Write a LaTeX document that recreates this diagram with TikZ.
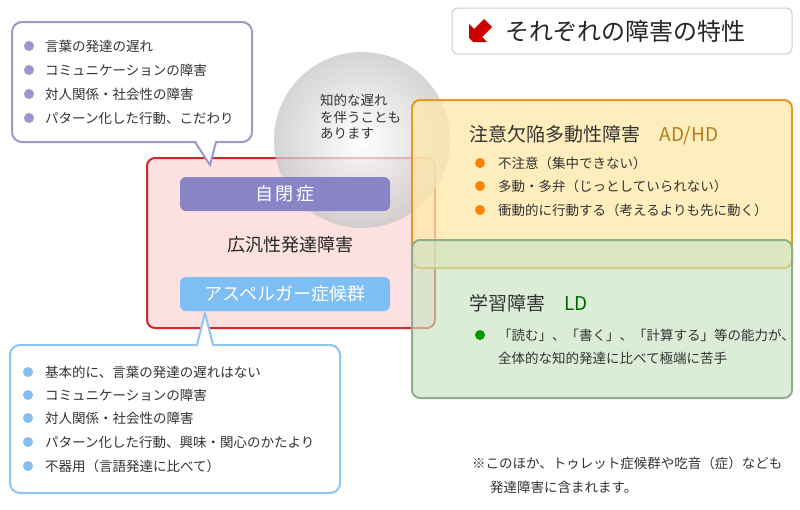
\documentclass[tikz,border=0pt]{standalone}
\usepackage{fontspec}
\setmainfont{Noto Sans CJK JP}
\definecolor{pv}{HTML}{9C98CC}
\definecolor{pvb}{HTML}{9A96D0}
\definecolor{pb}{HTML}{8EC6F2}
\definecolor{pbb}{HTML}{86BDEE}
\definecolor{autc}{HTML}{8884C6}
\definecolor{aspc}{HTML}{7DBEF4}
\definecolor{redb}{HTML}{D02828}
\definecolor{pinkf}{HTML}{FDE0E0}
\definecolor{orb}{HTML}{E8981E}
\definecolor{orf}{HTML}{FFE9A8}
\definecolor{grb}{HTML}{8FAE8C}
\definecolor{grf}{HTML}{C9E4C2}
\begin{document}
\begin{tikzpicture}[x=1pt,y=-1pt,
 txt/.style={anchor=west,inner sep=0pt,font=\fontsize{13.5}{15}\selectfont,text=black!80},
 bul/.style={circle,inner sep=0pt,minimum size=10pt,fill=#1},
 box/.style={rounded corners=8pt,line width=2pt}]
\useasboundingbox (0,0) rectangle (800,509);
\fill[white] (0,0) rectangle (800,509);
% red box
\draw[box,draw=redb,fill=pinkf] (147,158) rectangle (435,328);
% grey circle
\shade[inner color=white,outer color=black!22,opacity=0.75] (362,140) circle (88);
\node[txt] (c1) at (320,100) {知的な遅れ};
\node[txt] (c2) at (320,117) {を伴うことも};
\node[txt] (c3) at (320,134) {あります};
% orange & green
\draw[box,draw=orb,fill=orf,fill opacity=0.75] (412,100) rectangle (792,268);
\draw[box,draw=grb,fill=grf,fill opacity=0.65] (412,240) rectangle (792,398);
% bars
\node[rounded corners=6pt,fill=autc,minimum width=210pt,minimum height=34pt,text=white,font=\fontsize{18}{20}\selectfont] (aut) at (285,194) {自\,閉\,症};
\node[font=\fontsize{18}{20}\selectfont,text=black!85] (pdd) at (290,245) {広汎性発達障害};
\node[rounded corners=6pt,fill=aspc,minimum width=210pt,minimum height=34pt,text=white,font=\fontsize{18}{20}\selectfont] (asp) at (285,294) {アスペルガー症候群};
% top-left callout
\coordinate (t1) at (210,165);
\draw[line width=2pt,draw=pv,fill=white,rounded corners=10pt] (12,22) rectangle (252,142);
\fill[white] (195,139) -- (t1) -- (216,139) -- cycle;
\draw[line width=2pt,draw=pv] (195,142) -- (t1) -- (216,142);
\foreach \y/\t in {46/言葉の発達の遅れ,70/コミュニケーションの障害,94/対人関係・社会性の障害,118/パターン化した行動、こだわり}{
 \node[bul=pvb] at (29,\y) {};
 \node[txt] at (45,\y) {\t};}
% bottom-left callout
\coordinate (t2) at (205,313);
\draw[line width=2pt,draw=pb,fill=white,rounded corners=10pt] (10,345) rectangle (340,493);
\fill[white] (197,348) -- (t2) -- (213,348) -- cycle;
\draw[line width=2pt,draw=pb] (197,345) -- (t2) -- (213,345);
\foreach \y/\t in {372/基本的に、言葉の発達の遅れはない,395/コミュニケーションの障害,418/対人関係・社会性の障害,442/パターン化した行動、興味・関心のかたより,466/不器用（言語発達に比べて）}{
 \node[bul=pbb] at (28,\y) {};
 \node[txt] at (45,\y) {\t};}
% title
\node[draw=black!20,line width=1pt,rounded corners=6pt,minimum width=340pt,minimum height=46pt,fill=white] (tb) at (622,31) {};
\fill[red!80!black] (469,38) -- (469,24) -- (474,29) -- (484,19) -- (492,27) -- (482,37) -- (487,42) -- (473,42) -- cycle;
\node[anchor=west,font=\fontsize{24}{26}\selectfont,text=black!85] (tt) at (502,31) {それぞれの障害の特性};
% ADHD
\node[anchor=west,font=\fontsize{19}{21}\selectfont,text=black!80] (ad) at (466,135) {注意欠陥多動性障害\quad\textcolor{orb!80!black}{AD/HD}};
\foreach \y/\t in {163/不注意（集中できない）,186/多動・多弁（じっとしていられない）,210/衝動的に行動する（考えるよりも先に動く）}{
 \node[bul=orange] at (480,\y) {};
 \node[txt] at (498,\y) {\t};}
% LD
\node[anchor=west,font=\fontsize{19}{21}\selectfont,text=black!80] (ld) at (466,303) {学習障害\quad\textcolor{green!40!black}{LD}};
\node[bul=green!60!black] at (480,335) {};
\node[txt] (l1) at (498,335) {「読む」、「書く」、「計算する」等の能力が、};
\node[txt] (l2) at (498,358) {全体的な知的発達に比べて極端に苦手};
% footnote
\node[txt] (f1) at (472,463) {※このほか、トゥレット症候群や吃音（症）なども};
\node[txt] (f2) at (490,487) {発達障害に含まれます。};
\end{tikzpicture}
\end{document}
